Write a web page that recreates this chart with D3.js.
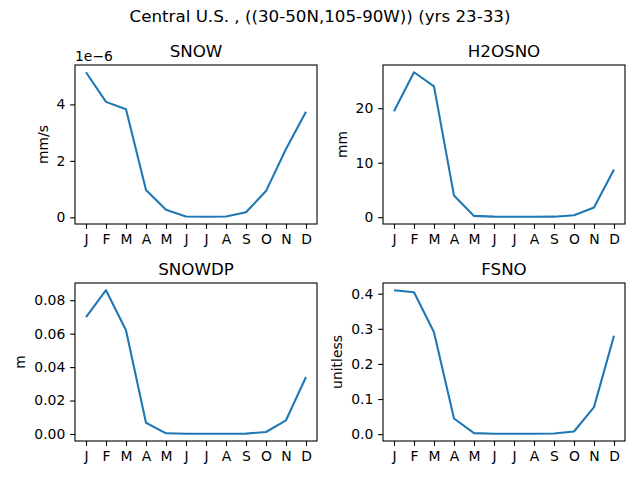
<!DOCTYPE html>
<html>
<head>
<meta charset="utf-8">
<script src="https://cdn.jsdelivr.net/npm/d3@7"></script>
<style>
  body { margin: 0; background: #fff; }
  text { font-family: "DejaVu Sans", sans-serif; fill: #000; }
</style>
</head>
<body>
<script>
const width = 640;
const height = 480;

const months = ["J", "F", "M", "A", "M", "J", "J", "A", "S", "O", "N", "D"];

// monthly means
const snow = [5.14e-6, 4.09e-6, 3.83e-6, 0.97e-6, 0.27e-6, 0.03e-6, 0.02e-6, 0.03e-6, 0.18e-6, 0.93e-6, 2.42e-6, 3.74e-6];
const h2osno = [19.45, 26.6, 24.0, 3.97, 0.24, 0.1, 0.08, 0.08, 0.1, 0.35, 1.77, 8.74];
const snowdp = [0.0699, 0.0860, 0.0620, 0.0067, 0.0004, 0.0001, 0.0001, 0.0001, 0.0002, 0.0012, 0.0082, 0.0341];
const fsno = [0.410, 0.404, 0.290, 0.0446, 0.003, 0.001, 0.001, 0.001, 0.002, 0.0077, 0.077, 0.280];

const snowTicks = [0, 2e-6, 4e-6];
const h2osnoTicks = [0, 10, 20];
const snowdpTicks = [0, 0.02, 0.04, 0.06, 0.08];
const fsnoTicks = [0, 0.1, 0.2, 0.3, 0.4];

const panels = [
  { title: "SNOW", unit: "mm/s", values: snow, ticks: snowTicks, fmt: d => d3.format("d")(Math.round(d * 1e6)), offset: "1e\u22126", box: [75, 65, 317, 224] },
  { title: "H2OSNO", unit: "mm", values: h2osno, ticks: h2osnoTicks, fmt: d3.format("d"), box: [383, 65, 625, 224] },
  { title: "SNOWDP", unit: "m", values: snowdp, ticks: snowdpTicks, fmt: d3.format(".2f"), box: [75, 283, 317, 441] },
  { title: "FSNO", unit: "unitless", values: fsno, ticks: fsnoTicks, fmt: d3.format(".1f"), box: [383, 283, 625, 441] }
];

const svg = d3.select("body")
  .append("svg")
  .attr("width", width)
  .attr("height", height);

svg.append("text")
  .attr("x", width / 2)
  .attr("y", 22)
  .attr("text-anchor", "middle")
  .style("font-size", "16.7px")
  .text("Central U.S. , ((30-50N,105-90W)) (yrs 23-33)");

const tickLen = 4.86;
const pad = 4.86;

panels.forEach(p => {
  const [x0, y0, x1, y1] = p.box;
  const ext = d3.extent(p.values);
  const span = ext[1] - ext[0];

  const x = d3.scaleLinear().domain([-0.55, 11.55]).range([x0, x1]);
  const y = d3.scaleLinear().domain([ext[0] - 0.05 * span, ext[1] + 0.05 * span]).range([y1, y0]);

  const g = svg.append("g");

  // x axis
  const xAxis = g.append("g")
    .attr("transform", `translate(0,${y1})`)
    .call(d3.axisBottom(x).tickValues(d3.range(12)).tickFormat(i => months[i]).tickSize(tickLen).tickPadding(pad));
  xAxis.select(".domain").remove();

  // y axis
  const yAxis = g.append("g")
    .attr("transform", `translate(${x0},0)`)
    .call(d3.axisLeft(y).tickValues(p.ticks).tickFormat(p.fmt).tickSize(tickLen).tickPadding(pad));
  yAxis.select(".domain").remove();

  g.selectAll(".tick line").attr("stroke", "#000").attr("stroke-width", 1.1);
  g.selectAll(".tick text")
    .style("font-size", "13.9px")
    .style("font-family", "DejaVu Sans, sans-serif")
    .attr("fill", "#000");

  // frame
  g.append("rect")
    .attr("x", x0).attr("y", y0)
    .attr("width", x1 - x0).attr("height", y1 - y0)
    .attr("fill", "none")
    .attr("stroke", "#000")
    .attr("stroke-width", 1.1);

  // line
  g.append("path")
    .datum(p.values)
    .attr("fill", "none")
    .attr("stroke", "#1f77b4")
    .attr("stroke-width", 2.08)
    .attr("stroke-linejoin", "round")
    .attr("d", d3.line().x((d, i) => x(i)).y(d => y(d)));

  // title
  g.append("text")
    .attr("x", (x0 + x1) / 2)
    .attr("y", y0 - 8.3)
    .attr("text-anchor", "middle")
    .style("font-size", "16.7px")
    .text(p.title);

  // y label, placed left of widest tick label
  let minX = 0;
  yAxis.selectAll(".tick text").each(function () {
    minX = Math.min(minX, this.getBBox().x);
  });
  const lx = x0 + minX - 5.6 - 3.3;
  g.append("text")
    .attr("transform", `translate(${lx},${(y0 + y1) / 2}) rotate(-90)`)
    .attr("text-anchor", "middle")
    .style("font-size", "13.9px")
    .text(p.unit);

  if (p.offset) {
    g.append("text")
      .attr("x", x0)
      .attr("y", y0 - 4)
      .style("font-size", "13.9px")
      .text(p.offset);
  }
});
</script>
</body>
</html>
